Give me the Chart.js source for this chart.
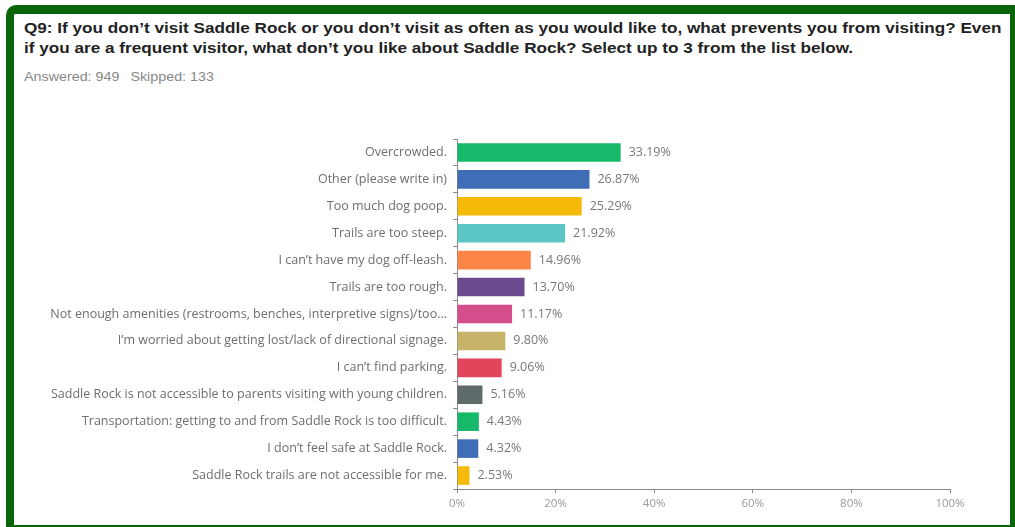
<!DOCTYPE html>
<html>
<head>
<meta charset="utf-8">
<script src="https://cdn.jsdelivr.net/npm/chart.js@4"></script>
<style>
  html, body { margin: 0; padding: 0; background: #fff; overflow: hidden; }
  body { width: 1015px; height: 527px; position: relative; }
  .frame {
    position: absolute; left: 6px; top: 5px; width: 996px; height: 511px;
    border: 8px solid #0a650a; border-top-width: 9px; border-radius: 10px 0 0 0;
  }
  .title {
    position: absolute; left: 24px; top: 18px; white-space: nowrap;
    font: bold 15px "Liberation Sans", Arial, sans-serif; line-height: 20px; color: #222;
    transform: scaleX(1.143); transform-origin: 0 0;
  }
  .meta {
    position: absolute; left: 24px; top: 69px; white-space: nowrap;
    font: 13px "Liberation Sans", Arial, sans-serif; color: #888;
    transform: scaleX(1.1); transform-origin: 0 0;
  }
  .meta span + span { margin-left: 10px; }
  .wrap { position: absolute; left: 14px; top: 100px; width: 996px; height: 420px; }
</style>
</head>
<body>
<div class="frame"></div>
<div class="title">Q9: If you don’t visit Saddle Rock or you don’t visit as often as you would like to, what prevents you from visiting? Even<br>if you are a frequent visitor, what don’t you like about Saddle Rock? Select up to 3 from the list below.</div>
<div class="meta"><span>Answered: 949</span><span>Skipped: 133</span></div>
<div class="wrap"><canvas id="chart"></canvas></div>
<script>
// answer choices, top to bottom
const choices = [
    'Overcrowded.',
    'Other (please write in)',
    'Too much dog poop.',
    'Trails are too steep.',
    'I can’t have my dog off-leash.',
    'Trails are too rough.',
    'Not enough amenities (restrooms, benches, interpretive signs)/too...',
    'I’m worried about getting lost/lack of directional signage.',
    'I can’t find parking.',
    'Saddle Rock is not accessible to parents visiting with young children.',
    'Transportation: getting to and from Saddle Rock is too difficult.',
    'I don’t feel safe at Saddle Rock.',
    'Saddle Rock trails are not accessible for me.'
];

// percent of respondents
const percents = [33.19, 26.87, 25.29, 21.92, 14.96, 13.70, 11.17, 9.80, 9.06, 5.16, 4.43, 4.32, 2.53];

const barColors = [
    '#16b86a', '#3f6db6', '#f5b90a', '#5cc6c6', '#fb8447', '#6c4a8f', '#d64d8e',
    '#c7b26a', '#e2445c', '#5f6b6b', '#16b86a', '#3f6db6', '#f5b90a'
];

const xTicks = [0, 20, 40, 60, 80, 100];

const labelFont = { family: '"Open Sans", "Liberation Sans", sans-serif', size: 12.5 };

// write the percent next to each bar
const valueLabels = {
    id: 'valueLabels',
    afterDatasetsDraw(chart) {
        const ctx = chart.ctx;
        const meta = chart.getDatasetMeta(0);
        ctx.save();
        ctx.font = `${labelFont.size}px ${labelFont.family}`;
        ctx.fillStyle = '#777';
        ctx.textAlign = 'left';
        ctx.textBaseline = 'middle';
        meta.data.forEach((bar, i) => {
            ctx.fillText(percents[i].toFixed(2) + '%', bar.x + 8, bar.y);
        });
        ctx.restore();
    }
};

new Chart(document.getElementById('chart'), {
    type: 'bar',
    data: {
        labels: choices,
        datasets: [{
            data: percents,
            backgroundColor: barColors,
            borderWidth: 0,
            categoryPercentage: 1,
            barPercentage: 0.69
        }]
    },
    options: {
        indexAxis: 'y',
        responsive: true,
        maintainAspectRatio: false,
        animation: false,
        layout: { padding: { top: 39, right: 60, bottom: 0, left: 0 } },
        plugins: {
            legend: { display: false },
            tooltip: { enabled: false }
        },
        scales: {
            x: {
                min: 0,
                max: 100,
                afterFit: (s) => { s.height = 31; },
                afterBuildTicks: (s) => { s.ticks = xTicks.map(v => ({ value: v })); },
                border: { display: true, color: '#8a8a8a' },
                grid: { drawOnChartArea: false, tickLength: 4, color: '#8a8a8a' },
                ticks: {
                    padding: 4,
                    color: '#9a9a9a',
                    font: { family: labelFont.family, size: 11.5 },
                    callback: (v) => v + '%'
                }
            },
            y: {
                afterFit: (s) => { s.width = 443; },
                border: { display: true, color: '#8a8a8a' },
                grid: { offset: true, drawOnChartArea: false, tickLength: 4, color: '#8a8a8a' },
                ticks: {
                    padding: 6,
                    color: '#6e6e6e',
                    font: labelFont,
                    autoSkip: false
                }
            }
        }
    },
    plugins: [valueLabels]
});
</script>
</body>
</html>
